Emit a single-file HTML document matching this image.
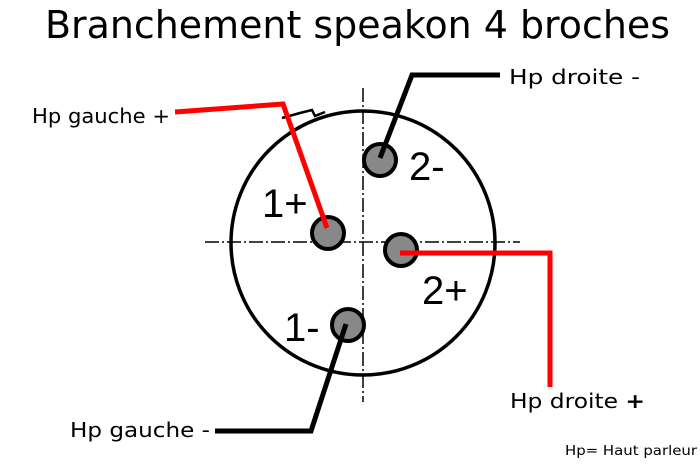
<!DOCTYPE html>
<html><head><style>
body{margin:0;background:#fff;width:700px;height:466px;overflow:hidden}
svg{display:block}
</style></head><body>
<svg width="700" height="466" viewBox="0 0 700 466" xmlns="http://www.w3.org/2000/svg">
<text x="45" y="38" textLength="625" lengthAdjust="spacingAndGlyphs" font-family="DejaVu Sans, sans-serif" font-size="38" fill="#000">Branchement speakon 4 broches</text>
<g stroke="#000" stroke-width="1.5" stroke-dasharray="14,3,2,3" fill="none">
<line x1="363" y1="88" x2="363" y2="402"/>
<line x1="205" y1="242" x2="520" y2="242"/>
</g>
<circle cx="363" cy="243" r="132" fill="none" stroke="#000" stroke-width="3.5"/>
<path d="M282 118 L300 113 L312 110 L315 116 L325 112" stroke="#000" stroke-width="2.5" fill="none"/>
<g fill="#888" stroke="#000" stroke-width="4">
<circle cx="328" cy="233" r="16"/>
<circle cx="380" cy="160" r="16"/>
<circle cx="401" cy="250" r="16"/>
<circle cx="348" cy="325" r="16"/>
</g>
<g font-family="Liberation Sans, sans-serif" font-size="40" fill="#000">
<text x="262" y="217">1+</text>
<text x="409" y="180">2-</text>
<text x="422" y="304">2+</text>
<text x="284" y="341">1-</text>
</g>
<g fill="none" stroke-width="5">
<polyline points="175,112 283,104 327,228" stroke="#f00"/>
<polyline points="380,158 412,75 500,75" stroke="#000"/>
<polyline points="400,253 550,253 550,387" stroke="#f00"/>
<polyline points="346,324 311,431 215,431" stroke="#000"/>
</g>
<g font-family="DejaVu Sans, sans-serif" font-size="20" fill="#000">
<text x="32" y="123" textLength="138" lengthAdjust="spacingAndGlyphs">Hp gauche +</text>
<text x="509" y="84" textLength="131" lengthAdjust="spacingAndGlyphs">Hp droite -</text>
<text x="510" y="408" textLength="135" lengthAdjust="spacingAndGlyphs">Hp droite <tspan font-weight="bold">+</tspan></text>
<text x="70" y="437" textLength="140" lengthAdjust="spacingAndGlyphs">Hp gauche -</text>
</g>
<text x="565" y="455" textLength="132" lengthAdjust="spacingAndGlyphs" font-family="DejaVu Sans, sans-serif" font-size="13" fill="#000">Hp= Haut parleur</text>
</svg>
</body></html>
